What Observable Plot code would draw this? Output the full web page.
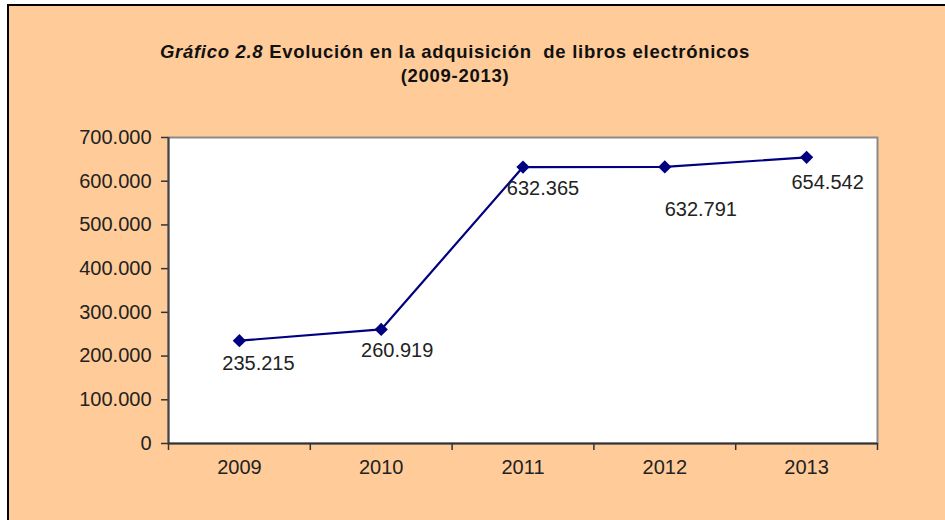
<!DOCTYPE html>
<html>
<head>
<meta charset="utf-8">
<script src="https://cdn.jsdelivr.net/npm/d3@7"></script>
<script src="https://cdn.jsdelivr.net/npm/@observablehq/plot@0.6"></script>
<style>
  html, body { margin: 0; padding: 0; background: #ffffff; }
  #wrap { position: relative; width: 945px; height: 520px; overflow: hidden; font-family: "Liberation Sans", Arial, sans-serif; }
  #panel { position: absolute; left: 7px; top: 4px; width: 960px; height: 540px; background: #FFCC99; border-top: 2px solid #000; border-left: 2px solid #000; }
  #title { position: absolute; left: 0; width: 910px; top: 40px; text-align: center; font-weight: bold; font-size: 18.5px; letter-spacing: 0.7px; line-height: 24px; color: #111; }
  #title i { font-style: italic; }
  #chart { position: absolute; left: 0; top: 0; }
</style>
</head>
<body>
<div id="wrap">
  <div id="panel"></div>
  <div id="chart"></div>
  <div id="title"><i>Gráfico 2.8</i> Evolución en la adquisición&nbsp; de libros electrónicos<br>(2009-2013)</div>
</div>
<script>
const years = [2009, 2010, 2011, 2012, 2013];
const values = [235215, 260919, 632365, 632791, 654542];
const yTicks = [0, 100000, 200000, 300000, 400000, 500000, 600000, 700000];

const data = years.map((year, i) => ({year, value: values[i]}));
const locale = d3.formatLocale({decimal: ",", thousands: ".", grouping: [3], currency: ["", "€"]});
const fmt = locale.format(",d");

// label offsets as placed in the original chart (px)
const labelDx = [19, 16, 20, 36, 21];
const labelDy = [23, 21, 22, 43, 25];

const boundaries = years.map(y => y - 0.5).concat([years[years.length - 1] + 0.5]);

const labelMarks = data.map((d, i) => Plot.text([d], {
  x: "year", y: "value", text: d => fmt(d.value),
  dx: labelDx[i], dy: labelDy[i],
  fontSize: 20, fill: "#222", fontFamily: "Liberation Sans, Arial, sans-serif"
}));

const chart = Plot.plot({
  width: 945,
  height: 520,
  marginLeft: 168,
  marginRight: 68,
  marginTop: 137,
  marginBottom: 77,
  style: {background: "transparent", fontFamily: "Liberation Sans, Arial, sans-serif", fontSize: "20px", color: "#222", overflow: "visible"},
  x: {type: "linear", domain: [years[0] - 0.5, years[years.length - 1] + 0.5], label: null},
  y: {domain: [0, 700000], label: null},
  marks: [
    Plot.frame({fill: "white", stroke: "#8a8a8a", strokeWidth: 2}),
    Plot.axisY({ticks: yTicks, tickFormat: fmt, tickSize: 7, tickPadding: 10, fontSize: 20, stroke: "#333", strokeWidth: 1.5, label: null}),
    Plot.axisX({ticks: boundaries, tickFormat: () => "", tickSize: 7, stroke: "#333", strokeWidth: 1.5, label: null}),
    Plot.axisX({ticks: years, tickFormat: d => String(d), tickSize: 0, tickPadding: 16, fontSize: 20, label: null}),
    Plot.ruleX([years[0] - 0.5], {stroke: "#444", strokeWidth: 2}),
    Plot.ruleY([0], {stroke: "#333", strokeWidth: 2}),
    Plot.line(data, {x: "year", y: "value", stroke: "#000080", strokeWidth: 2.2}),
    Plot.dot(data, {x: "year", y: "value", symbol: "diamond2", r: 6, fill: "#000080", stroke: "none"}),
    ...labelMarks
  ]
});
document.getElementById("chart").appendChild(chart);
</script>
</body>
</html>
